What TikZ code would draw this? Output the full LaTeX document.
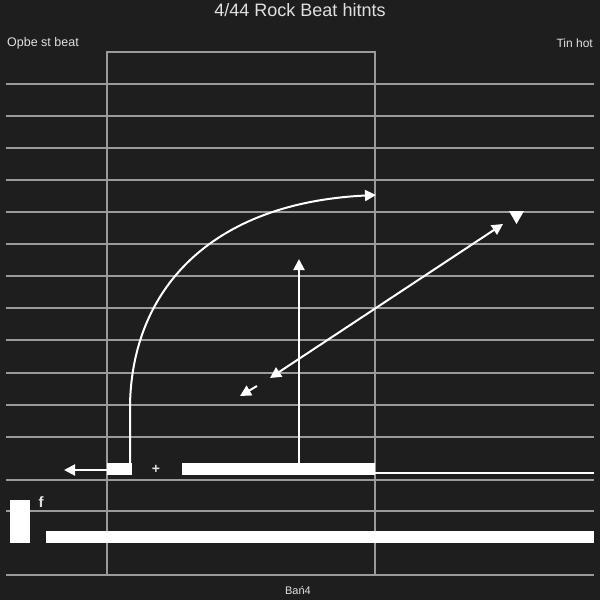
\documentclass[tikz,border=0pt]{standalone}
\usepackage{fontspec}
\setmainfont{Liberation Sans}
\usetikzlibrary{arrows.meta}
\definecolor{bg}{HTML}{1E1E1E}
\definecolor{grid}{HTML}{9A9A9A}
\tikzset{
  gridline/.style={draw=grid, line width=2pt},
  whitebar/.style={fill=white, draw=none},
  wline/.style={draw=white, line width=2pt},
  warrow/.style={wline, -{Triangle[width=11pt,length=11pt]}},
  wdarrow/.style={wline, {Triangle[width=11pt,length=11pt]}-{Triangle[width=11pt,length=11pt]}},
  lbl/.style={text=white!88!black, inner sep=0pt}
}
\begin{document}
\begin{tikzpicture}[x=1pt,y=-1pt]
\fill[bg] (0,0) rectangle (600,600);
\useasboundingbox (0,0) rectangle (600,600);
% horizontal grid lines
\foreach \y in {84,116,148,180,212,244,276,308,340,373,405,437,480,511,575}
  \draw[gridline] (6,\y) -- (594,\y);
% frame
\draw[gridline] (107,575) -- (107,52) -- (375,52) -- (375,575);
% white bars
\fill[whitebar] (107,463) rectangle (132,475);
\fill[whitebar] (182,463) rectangle (375,475);
\fill[whitebar] (10,500) rectangle (30,543);
\fill[whitebar] (46,531) rectangle (594,543);
\draw[draw=white, line width=2.5pt] (375,473) -- (594,473);
% coordinates
\coordinate (lstart) at (107,470);
\coordinate (lend) at (64,470);
\coordinate (cstart) at (130,464);
\coordinate (cbend) at (130,405);
\coordinate (cend) at (376,195);
\coordinate (vstart) at (299,463);
\coordinate (vend) at (299,259);
\coordinate (da) at (270,378);
\coordinate (db) at (503,224);
\coordinate (sa) at (257,386);
\coordinate (sb) at (240,396);
% arrows
\draw[warrow] (lstart) -- (lend);
\draw[warrow] (cstart) -- (cbend) .. controls (132,290) and (210,203) .. (cend);
\draw[warrow] (vstart) -- (vend);
\draw[wdarrow] (da) -- (db);
\draw[warrow] (sa) -- (sb);
\fill[white] (509,211) -- (524,211) -- (516.5,224) -- cycle;
% texts
\node[lbl, font=\fontsize{18}{20}\selectfont] (title) at (300,10) {4/44 Rock Beat hitnts};
\node[lbl, anchor=west, font=\fontsize{12.5}{14}\selectfont] (left) at (7,43) {Opbe st beat};
\node[lbl, anchor=east, font=\fontsize{12}{14}\selectfont] (right) at (593,43) {Tin hot};
\node[lbl, font=\fontsize{11}{12}\selectfont] (bottom) at (298,590) {Bań4};
\node[lbl, font=\bfseries\fontsize{14}{15}\selectfont] (plus) at (156,469) {+};
\node[lbl, font=\bfseries\fontsize{15}{16}\selectfont] (f) at (41,502) {f};
\end{tikzpicture}
\end{document}
